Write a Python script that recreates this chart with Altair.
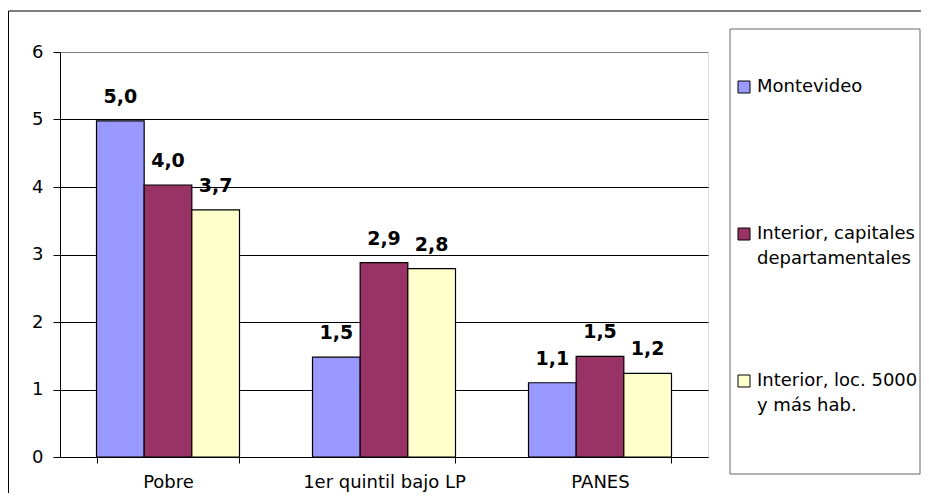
import altair as alt
import pandas as pd

categories = ["Pobre", "1er quintil bajo LP", "PANES"]
series = [
    "Montevideo",
    "Interior, capitales|departamentales",
    "Interior, loc. 5000|y más hab.",
]
colors = ["#9999FF", "#993366", "#FFFFCC"]

montevideo = [4.98, 1.48, 1.10]
capitales = [4.03, 2.88, 1.49]
localidades = [3.66, 2.79, 1.24]

rows = []
for s, vals in zip(series, [montevideo, capitales, localidades]):
    for c, v in zip(categories, vals):
        rows.append({"category": c, "series": s, "value": v})
df = pd.DataFrame(rows)

FONT = "DejaVu Sans"

base = alt.Chart(df).transform_calculate(
    label="replace(format(datum.value, '.1f'), '.', ',')"
).encode(
    x=alt.X(
        "category:N",
        sort=categories,
        scale=alt.Scale(paddingInner=0.338, paddingOuter=0.169),
        axis=alt.Axis(
            title=None,
            labelAngle=0,
            tickBand="extent",
            tickSize=6,
            tickColor="black",
            domainColor="black",
            labelPadding=10,
            labelFont=FONT,
            labelFontSize=18,
            labelColor="black",
            grid=False,
        ),
    ),
    xOffset=alt.XOffset(
        "series:N", sort=series, scale=alt.Scale(paddingInner=0, paddingOuter=0)
    ),
    y=alt.Y(
        "value:Q",
        scale=alt.Scale(domain=[0, 6], nice=False),
        axis=alt.Axis(
            title=None,
            values=[0, 1, 2, 3, 4, 5, 6],
            tickSize=7,
            tickColor="black",
            domainColor="black",
            labelPadding=10,
            labelFont=FONT,
            labelFontSize=18,
            labelColor="black",
            grid=True,
            gridColor={"condition": {"test": "datum.value === 6", "value": "#808080"}, "value": "black"},
            gridWidth=1,
        ),
    ),
)

bars = base.mark_bar(stroke="black", strokeWidth=1.2).encode(
    color=alt.Color(
        "series:N",
        sort=series,
        scale=alt.Scale(domain=series, range=colors),
        legend=alt.Legend(
            orient="none",
            legendX=675,
            legendY=26,
            title=None,
            direction="vertical",
            symbolType="square",
            symbolSize=144,
            symbolStrokeColor="black",
            symbolStrokeWidth=1,
            labelFont=FONT,
            labelFontSize=18,
            labelColor="black",
            labelOffset=4,
            labelLimit=400,
            rowPadding=104,
            padding=0,
            labelExpr="indexof(datum.label, '|') < 0 ? [datum.label, ''] : split(datum.label, '|')",
        ),
    )
)

text = base.mark_text(
    font=FONT, fontWeight="bold", fontSize=19, baseline="alphabetic", dy=-18, color="black"
).encode(text="label:N")

deco = pd.DataFrame({"k": [0]})
outer = alt.Chart(deco).mark_rect(fillOpacity=0, stroke="black", strokeWidth=1).encode(
    x=alt.value(-51.5), x2=alt.value(950), y=alt.value(-41), y2=alt.value(600)
)
legend_box = alt.Chart(deco).mark_rect(fillOpacity=0, stroke="#666666", strokeWidth=1).encode(
    x=alt.value(670), x2=alt.value(860), y=alt.value(-23), y2=alt.value(422)
)

chart = alt.layer(outer, legend_box, bars, text).properties(
    width=648,
    height=405,
    padding={"left": 52, "top": 44, "right": 213, "bottom": 36},
    autosize="none",
    background="white",
).configure_view(
    stroke="#808080", strokeWidth=1
).configure(
    style={"guide-label": {"lineHeight": 25}}
)

chart.save("out.html", embed_options={"renderer": "svg", "actions": False})
